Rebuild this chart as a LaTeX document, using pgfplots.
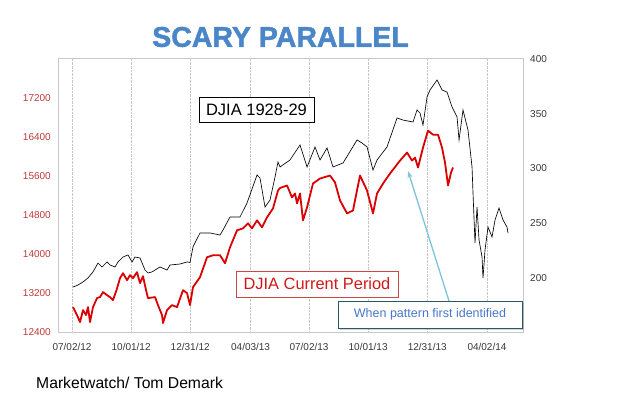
\documentclass[border=0pt]{standalone}
\usepackage{fontspec}
\setmainfont{Liberation Sans}
\newfontfamily\titlefont[FakeBold=1.6]{Liberation Sans Bold}
\usepackage{pgfplots}
\pgfplotsset{compat=1.18}
\usetikzlibrary{shadows,arrows.meta}
\definecolor{titleblue}{RGB}{74,134,200}
\definecolor{leftred}{RGB}{192,57,57}
\definecolor{axisgray}{RGB}{200,200,200}
\definecolor{labgray}{RGB}{55,55,55}
\definecolor{redline}{RGB}{218,0,0}
\definecolor{boxred}{RGB}{205,70,70}
\definecolor{textred}{RGB}{210,25,25}
\definecolor{tealborder}{RGB}{40,90,100}
\definecolor{noteblue}{RGB}{70,120,200}
\definecolor{arrowblue}{RGB}{125,195,218}

\pgfplotstableread{
d v
1.5 191.6
9.2 193.4
16.9 196.2
24.6 199.9
32.3 205.4
40.0 213.5
46.2 209.9
53.9 214.5
58.5 211.7
66.2 209.9
70.8 214.5
78.5 219.0
86.2 220.9
92.4 214.5
97.0 219.0
104.7 218.1
112.4 207.1
117.0 204.4
123.2 205.4
127.8 207.1
135.5 209.9
146.3 207.1
150.9 211.7
166.3 212.6
177.1 214.5
181.7 214.0
186.3 228.2
197.1 241.0
212.5 241.0
227.9 239.1
232.5 243.7
243.3 255.6
258.7 255.6
269.5 268.4
284.9 294.0
289.5 291.2
297.2 264.7
304.9 271.1
312.6 292.1
317.2 305.9
320.3 301.3
335.7 307.7
351.1 321.4
361.9 301.3
374.2 319.6
381.9 307.7
392.7 318.7
401.9 301.3
417.3 304.9
438.9 326.0
446.6 323.2
454.3 319.6
463.5 298.5
469.7 307.7
485.1 319.6
500.5 346.1
509.7 344.2
525.1 342.4
531.3 353.4
535.9 350.6
540.5 339.7
546.7 365.3
551.3 371.7
562.1 380.8
569.8 371.7
577.5 369.8
585.2 356.1
592.9 347.0
596.0 326.0
602.1 353.4
609.8 335.1
616.0 301.3
617.5 277.5
620.6 231.8
623.7 264.7
626.8 234.6
631.4 219.0
632.9 199.8
636.0 225.4
640.6 246.4
646.8 237.3
651.4 252.8
657.6 263.8
663.7 252.8
669.9 246.4
671.4 240.9
}\oldtable

\pgfplotstableread{
d v
1.5 12920
7.7 12757
12.3 12614
16.9 12859
21.6 12757
24.6 12920
27.7 12614
32.3 12920
38.5 13104
43.1 13125
47.7 13227
53.9 13165
58.5 13125
63.1 13063
68.5 13267
73.9 13512
78.5 13614
84.7 13472
89.3 13573
93.9 13512
100.1 13635
104.7 13410
109.3 13553
114.0 13267
117.0 13104
127.8 13125
132.4 12961
138.6 12757
140.1 12594
146.3 12859
154.0 12961
161.7 12920
170.9 13267
177.1 13206
181.7 12961
186.3 13329
197.1 13533
207.9 13941
217.1 13982
227.9 13982
235.6 13818
243.3 14145
254.1 14492
263.3 14533
271.0 14635
277.2 14533
284.9 14696
292.6 14553
300.3 14757
309.5 14941
317.2 15308
320.3 15359
331.1 15410
338.8 15165
343.4 15247
346.5 15043
351.1 15247
355.7 14696
361.9 14961
371.1 15451
381.9 15553
397.3 15614
405.0 15472
412.7 15104
423.5 14839
432.7 14900
443.5 15614
454.3 15308
463.5 14839
469.7 15247
479.0 15451
489.7 15655
505.1 15920
515.9 16084
523.6 15920
528.2 15982
532.8 15778
540.5 16186
548.2 16533
555.9 16451
563.6 16451
569.8 16186
574.4 15880
579.0 15410
583.7 15676
586.7 15778
}\newtable

\begin{document}
\begin{tikzpicture}[x=1bp,y=1bp]
\path[use as bounding box] (0,0) rectangle (620,398);
\begin{axis}[
  at={(58bp,65.5bp)}, anchor=south west,
  width=465bp, height=273.5bp, scale only axis,
  xmin=-21.6, xmax=694.5, ymin=12400, ymax=18000,
  xtick={0,91,182,275,365,456,547,639},
  xticklabels={07/02/12,10/01/12,12/31/12,04/03/13,07/02/13,10/01/13,12/31/13,04/02/14},
  ytick={12400,13200,14000,14800,15600,16400,17200},
  axis line style={draw=axisgray, line width=1bp},
  major tick length=0pt,
  xmajorgrids, grid style={densely dotted, draw=gray!45, line width=0.6bp},
  tick label style={font=\fontsize{10bp}{12bp}\selectfont, inner sep=0pt},
  yticklabel style={text=leftred},
  xticklabel style={text=labgray},
  yticklabel shift=7bp, xticklabel shift=10.5bp,
  /pgf/number format/assume math mode=true,
  /pgf/number format/1000 sep={},
  scaled y ticks=false,
]
\addplot[redline, line width=1.8bp, line join=round] table[x=d,y=v] {\newtable};
\end{axis}
\begin{axis}[
  at={(58bp,65.5bp)}, anchor=south west,
  width=465bp, height=273.5bp, scale only axis,
  xmin=-21.6, xmax=694.5, ymin=150, ymax=400,
  hide x axis,
  axis y line*=right,
  y axis line style={draw=none},
  ytick={200,250,300,350,400},
  major tick length=0pt,
  tick label style={font=\fontsize{10bp}{12bp}\selectfont, inner sep=0pt},
  yticklabel style={text=labgray},
  yticklabel shift=7bp,
  /pgf/number format/assume math mode=true,
]
\addplot[black, line width=0.65bp] table[x=d,y=v] {\oldtable};
\end{axis}

\node[font=\fontsize{28.5bp}{33bp}\titlefont, text=titleblue] at (280.5,361) {SCARY PARALLEL};
\node[draw=black, line width=0.8bp, fill=white, minimum width=115bp, minimum height=25bp, inner sep=0pt,
      font=\fontsize{16.5bp}{19bp}\selectfont] at (256.5,288.5) {DJIA 1928-29};
\node[draw=boxred, line width=0.8bp, fill=white, minimum width=162bp, minimum height=26bp, inner sep=0pt,
      text=textred, font=\fontsize{16.4bp}{19bp}\selectfont] at (317,114) {DJIA Current Period};
\draw[arrowblue, line width=1.3bp, -{Stealth[length=7bp,width=5bp]}] (449,97) -- (408,227);
\node[draw=tealborder, line width=1bp, fill=white, minimum width=184bp, minimum height=27bp, inner sep=0pt,
      text=noteblue, font=\fontsize{12.5bp}{15bp}\selectfont,
      drop shadow={shadow xshift=2bp, shadow yshift=-2bp, opacity=0.35}] at (430,83.5) {When pattern first identified};
\node[anchor=base west, inner sep=0pt, font=\fontsize{15.7bp}{18bp}\selectfont] at (36,10) {Marketwatch/ Tom Demark};
\end{tikzpicture}
\end{document}
